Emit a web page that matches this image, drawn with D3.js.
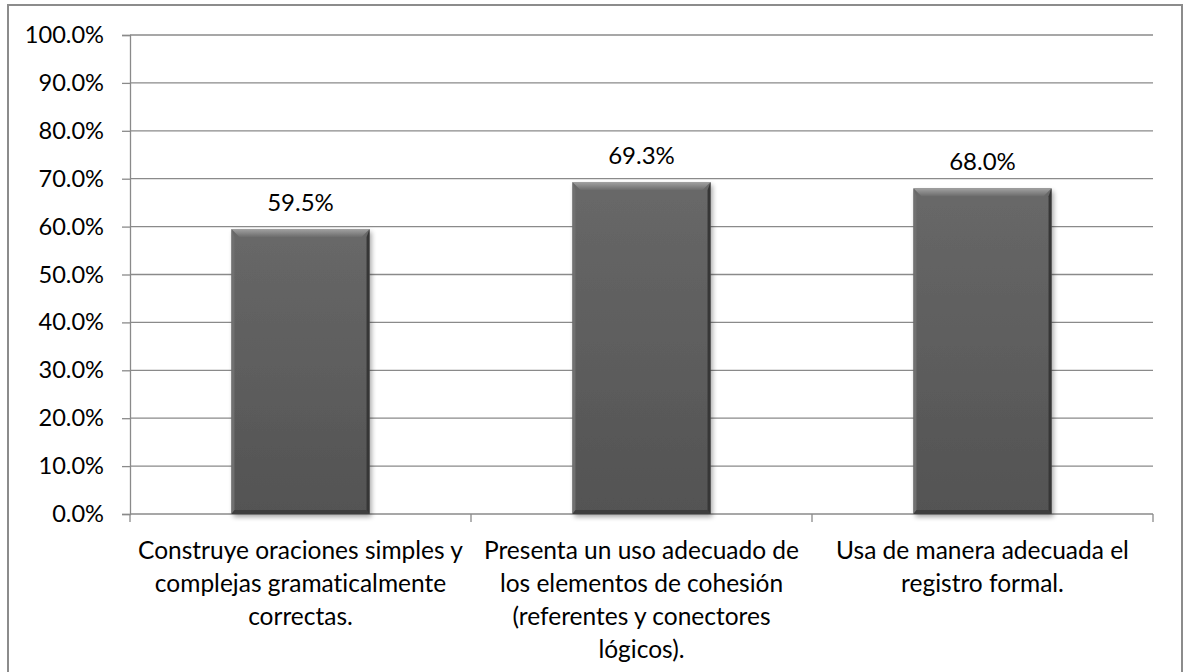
<!DOCTYPE html>
<html>
<head>
<meta charset="utf-8">
<script src="https://cdn.jsdelivr.net/npm/d3@7/dist/d3.min.js"></script>
<style>
  html, body { margin: 0; padding: 0; background: #fff; }
  svg { display: block; }
  text { font-family: Lato, "Noto Sans", sans-serif; fill: #000; font-variant-ligatures: none; }
</style>
</head>
<body>
<svg id="chart" width="1184" height="672"></svg>
<script>
// Category labels (one entry per line), values and axis ticks
const categories = [
  "Construye oraciones simples y complejas gramaticalmente correctas.",
  "Presenta un uso adecuado de los elementos de cohesión (referentes y conectores lógicos).",
  "Usa de manera adecuada el registro formal."
];
const categoryLines = [
  ["Construye oraciones simples y", "complejas gramaticalmente", "correctas."],
  ["Presenta un uso adecuado de", "los elementos de cohesión", "(referentes y conectores", "lógicos)."],
  ["Usa de manera adecuada el", "registro formal."]
];
const values = [0.595, 0.693, 0.680];
const yTicks = [0, 0.1, 0.2, 0.3, 0.4, 0.5, 0.6, 0.7, 0.8, 0.9, 1.0];

const W = 1184, H = 672;
const margin = { top: 35, right: 31, bottom: 158, left: 130 };
const innerW = W - margin.left - margin.right;
const innerH = H - margin.top - margin.bottom;

const svg = d3.select("#chart");

// outer frame
svg.append("rect")
  .attr("x", 8).attr("y", 5)
  .attr("width", 1174).attr("height", 672)
  .attr("fill", "none").attr("stroke", "#8c8c8c").attr("stroke-width", 2);

const defs = svg.append("defs");
const bodyGrad = defs.append("linearGradient").attr("id", "barBody")
  .attr("x1", 0).attr("y1", 0).attr("x2", 0).attr("y2", 1);
bodyGrad.append("stop").attr("offset", "0%").attr("stop-color", "#686868");
bodyGrad.append("stop").attr("offset", "100%").attr("stop-color", "#535353");
const topGrad = defs.append("linearGradient").attr("id", "barTop")
  .attr("x1", 0).attr("y1", 0).attr("x2", 0).attr("y2", 1);
topGrad.append("stop").attr("offset", "0%").attr("stop-color", "#a2a2a2");
topGrad.append("stop").attr("offset", "100%").attr("stop-color", "#6c6c6c");
const shadow = defs.append("filter").attr("id", "shadow")
  .attr("x", "-10%").attr("y", "-10%").attr("width", "130%").attr("height", "130%");
shadow.append("feGaussianBlur").attr("in", "SourceAlpha").attr("stdDeviation", 2.5);
shadow.append("feOffset").attr("dx", 2).attr("dy", 3).attr("result", "b");
shadow.append("feComponentTransfer").append("feFuncA").attr("type", "linear").attr("slope", 0.35);
const m = shadow.append("feMerge");
m.append("feMergeNode");
m.append("feMergeNode").attr("in", "SourceGraphic");

const g = svg.append("g").attr("transform", `translate(${margin.left},${margin.top})`);

const x = d3.scaleBand().domain(categories).range([0, innerW]).paddingInner(0.595).paddingOuter(0.2975);
const xBoundary = d3.scaleLinear().domain([0, categories.length]).range([0, innerW]);
const y = d3.scaleLinear().domain([0, 1]).range([innerH, 0]);

// horizontal gridlines
g.append("g")
  .selectAll("line")
  .data(yTicks.filter(d => d > 0))
  .join("line")
  .attr("x1", 0).attr("x2", innerW)
  .attr("y1", d => y(d)).attr("y2", d => y(d))
  .attr("stroke", "#8a8a8a").attr("stroke-width", 1.3);

// y axis
const yAxis = g.append("g")
  .call(d3.axisLeft(y).tickValues(yTicks).tickFormat(d3.format(".1%")).tickSize(8).tickPadding(18));
yAxis.select(".domain").attr("stroke", "#8a8a8a").attr("stroke-width", 1.3);
yAxis.selectAll(".tick line").attr("stroke", "#8a8a8a").attr("stroke-width", 1.3);
yAxis.selectAll(".tick text").attr("font-size", 23.6).attr("font-family", "Lato, 'Noto Sans', sans-serif").attr("fill", "#000");

// x axis line and boundary ticks
g.append("line")
  .attr("x1", 0).attr("x2", innerW).attr("y1", innerH).attr("y2", innerH)
  .attr("stroke", "#8a8a8a").attr("stroke-width", 1.3);
g.append("g").selectAll("line")
  .data(d3.range(categories.length + 1))
  .join("line")
  .attr("x1", d => xBoundary(d)).attr("x2", d => xBoundary(d))
  .attr("y1", innerH).attr("y2", innerH + 8)
  .attr("stroke", "#8a8a8a").attr("stroke-width", 1.3);

// bars with beveled edges
const bev = 8;
const bars = g.append("g").selectAll("g")
  .data(values.map((v, i) => ({ v, c: categories[i], lines: categoryLines[i] })))
  .join("g");

bars.each(function(d) {
  const sel = d3.select(this);
  const x0 = x(d.c), bw = x.bandwidth(), y0 = y(d.v), y1 = y(0);
  const x1 = x0 + bw;
  sel.append("rect")
    .attr("x", x0).attr("y", y0).attr("width", bw).attr("height", y1 - y0)
    .attr("fill", "url(#barBody)").attr("filter", "url(#shadow)");
  // top bevel
  sel.append("polygon")
    .attr("points", [[x0, y0], [x1, y0], [x1 - bev, y0 + bev], [x0 + bev, y0 + bev]].join(" "))
    .attr("fill", "url(#barTop)");
  // left bevel
  sel.append("polygon")
    .attr("points", [[x0, y0], [x0 + 3, y0 + bev], [x0 + 3, y1 - 3], [x0, y1]].join(" "))
    .attr("fill", "#707070");
  // right bevel
  sel.append("polygon")
    .attr("points", [[x1, y0], [x1 - 3, y0 + bev], [x1 - 3, y1 - 3], [x1, y1]].join(" "))
    .attr("fill", "#363636");
  // bottom bevel
  sel.append("polygon")
    .attr("points", [[x0, y1], [x0 + 3, y1 - 4], [x1 - 3, y1 - 4], [x1, y1]].join(" "))
    .attr("fill", "#3e3e3e");
  // value label
  sel.append("text")
    .attr("x", x0 + bw / 2).attr("y", y0 - 18)
    .attr("text-anchor", "middle").attr("font-size", 24)
    .text(d3.format(".1%")(d.v));
  // category label
  const t = sel.append("text")
    .attr("text-anchor", "middle").attr("font-size", 24.5);
  d.lines.forEach((ln, k) => {
    t.append("tspan").attr("x", x0 + bw / 2).attr("y", innerH + 45 + k * 33).text(ln);
  });
});
</script>
</body>
</html>
